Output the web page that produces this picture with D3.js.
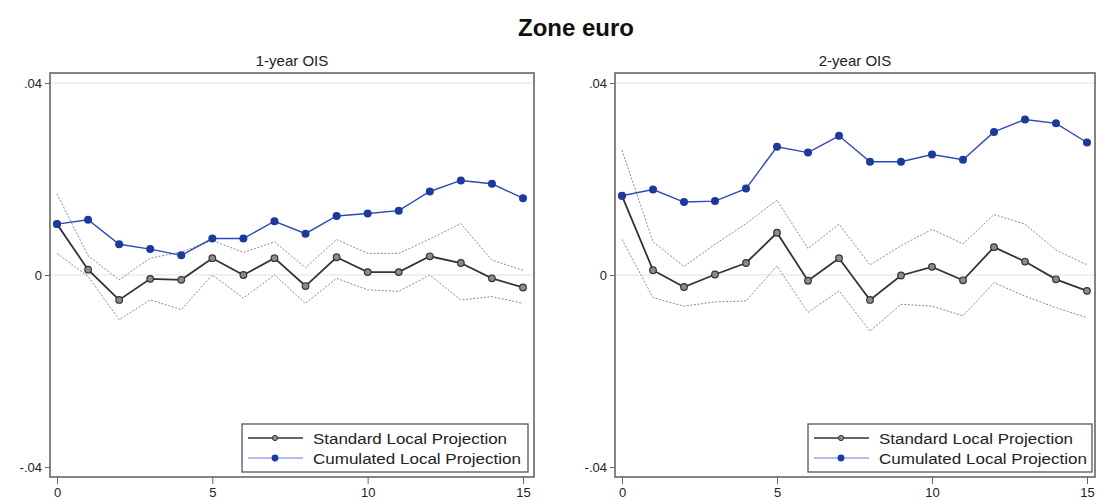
<!DOCTYPE html>
<html>
<head>
<meta charset="utf-8">
<script src="https://cdn.jsdelivr.net/npm/d3@7"></script>
<style>
  html, body { margin: 0; padding: 0; background: #fff; }
  svg { display: block; font-family: "Liberation Sans", Arial, sans-serif; }
  .tick text { fill: #222; }
</style>
</head>
<body>
<svg id="chart" width="1098" height="501"></svg>
<script>
// horizons (x axis)
const horizons = [0, 1, 2, 3, 4, 5, 6, 7, 8, 9, 10, 11, 12, 13, 14, 15]
const xTicks = [0, 5, 10, 15]
const yTicks = [-0.04, 0, 0.04]
const yTickLabels = ['-.04', '0', '.04']

// 1-year OIS
const oneYearStd = [0.0106, 0.0011, -0.0052, -0.0008, -0.0010, 0.0035, 0.0000, 0.0035, -0.0023, 0.0037, 0.0006, 0.0006, 0.0039, 0.0025, -0.0007, -0.0026]
const oneYearUp  = [0.0169, 0.0040, -0.0010, 0.0035, 0.0048, 0.0072, 0.0047, 0.0069, 0.0015, 0.0074, 0.0045, 0.0045, 0.0075, 0.0107, 0.0031, 0.0010]
const oneYearLo  = [0.0045, -0.0003, -0.0093, -0.0052, -0.0072, 0.0000, -0.0048, 0.0000, -0.0059, -0.0007, -0.0031, -0.0034, 0.0000, -0.0052, -0.0045, -0.0059]
const oneYearCum = [0.0106, 0.0115, 0.0064, 0.0054, 0.0041, 0.0076, 0.0076, 0.0112, 0.0086, 0.0123, 0.0128, 0.0134, 0.0174, 0.0197, 0.0190, 0.0160]

// 2-year OIS
const twoYearStd = [0.0165, 0.0010, -0.0025, 0.0001, 0.0025, 0.0088, -0.0012, 0.0035, -0.0052, -0.0001, 0.0017, -0.0011, 0.0058, 0.0028, -0.0009, -0.0033]
const twoYearUp  = [0.0260, 0.0069, 0.0018, 0.0064, 0.0107, 0.0156, 0.0055, 0.0106, 0.0021, 0.0061, 0.0095, 0.0065, 0.0126, 0.0106, 0.0052, 0.0021]
const twoYearLo  = [0.0074, -0.0047, -0.0065, -0.0056, -0.0054, 0.0019, -0.0078, -0.0033, -0.0117, -0.0061, -0.0065, -0.0085, -0.0016, -0.0044, -0.0068, -0.0089]
const twoYearCum = [0.0165, 0.0178, 0.0152, 0.0154, 0.0180, 0.0267, 0.0255, 0.0290, 0.0236, 0.0236, 0.0251, 0.0240, 0.0298, 0.0324, 0.0316, 0.0276]

const legendLabels = ['Standard Local Projection', 'Cumulated Local Projection']

const panels = [
  { title: '1-year OIS', std: oneYearStd, up: oneYearUp, lo: oneYearLo, cum: oneYearCum,
    frame: [50, 73, 534, 477], xr: [57, 523], legend: [242, 424, 528, 472] },
  { title: '2-year OIS', std: twoYearStd, up: twoYearUp, lo: twoYearLo, cum: twoYearCum,
    frame: [615, 73, 1095, 477], xr: [622, 1087], legend: [808, 424, 1092, 472] }
]

const svg = d3.select('#chart')

svg.append('text')
  .attr('x', 576).attr('y', 36)
  .attr('text-anchor', 'middle')
  .style('font-size', '24px').style('font-weight', 'bold')
  .attr('fill', '#111')
  .text('Zone euro')

const blue = '#2f47b8'
const blueDot = '#1c3a9c'

panels.forEach(p => {
  const [fx0, fy0, fx1, fy1] = p.frame
  const x = d3.scaleLinear().domain([0, 15]).range(p.xr)
  const y = d3.scaleLinear().domain([-0.04, 0.04]).range([467, 83])
  const g = svg.append('g')

  // panel title
  g.append('text')
    .attr('x', (fx0 + fx1) / 2).attr('y', 66)
    .attr('text-anchor', 'middle')
    .style('font-size', '15px').attr('fill', '#222')
    .text(p.title)

  // light gridlines
  g.selectAll('.grid')
    .data([0, 0.04])
    .join('line')
    .attr('x1', fx0).attr('x2', fx1)
    .attr('y1', d => y(d)).attr('y2', d => y(d))
    .attr('stroke', '#e6eef0').attr('stroke-width', 1.5)

  // axes
  const yAxis = d3.axisLeft(y)
    .tickValues(yTicks)
    .tickFormat((d, i) => yTickLabels[i])
    .tickSize(5).tickSizeOuter(0).tickPadding(3)
  g.append('g')
    .attr('transform', `translate(${fx0},0)`)
    .call(yAxis)
    .call(a => a.select('.domain').remove())
    .call(a => a.selectAll('.tick line').attr('stroke', '#666'))
    .call(a => a.selectAll('.tick text').style('font-size', '13px'))

  const xAxis = d3.axisBottom(x)
    .tickValues(xTicks)
    .tickSize(7).tickSizeOuter(0).tickPadding(4)
  g.append('g')
    .attr('transform', `translate(0,${fy1})`)
    .call(xAxis)
    .call(a => a.select('.domain').remove())
    .call(a => a.selectAll('.tick line').attr('stroke', '#666'))
    .call(a => a.selectAll('.tick text').style('font-size', '13px'))

  const line = d3.line().x((d, i) => x(horizons[i])).y(d => y(d))

  // confidence bands
  ;[p.up, p.lo].forEach(band => {
    g.append('path')
      .attr('d', line(band))
      .attr('fill', 'none')
      .attr('stroke', '#8a8a8a').attr('stroke-width', 1)
      .attr('stroke-dasharray', '2,1.6')
  })

  // standard LP
  g.append('path')
    .attr('d', line(p.std))
    .attr('fill', 'none')
    .attr('stroke', '#333').attr('stroke-width', 1.8)
  g.selectAll('.std')
    .data(p.std)
    .join('circle')
    .attr('cx', (d, i) => x(horizons[i])).attr('cy', d => y(d))
    .attr('r', 3.3)
    .attr('fill', '#8c8c8c').attr('stroke', '#333').attr('stroke-width', 1.2)

  // cumulated LP
  g.append('path')
    .attr('d', line(p.cum))
    .attr('fill', 'none')
    .attr('stroke', blue).attr('stroke-width', 1.4)
  g.selectAll('.cum')
    .data(p.cum)
    .join('circle')
    .attr('cx', (d, i) => x(horizons[i])).attr('cy', d => y(d))
    .attr('r', 4)
    .attr('fill', blueDot)

  // frame
  g.append('rect')
    .attr('x', fx0).attr('y', fy0)
    .attr('width', fx1 - fx0).attr('height', fy1 - fy0)
    .attr('fill', 'none').attr('stroke', '#666').attr('stroke-width', 1.6)

  // legend
  const [lx0, ly0, lx1, ly1] = p.legend
  const lg = g.append('g')
  lg.append('rect')
    .attr('x', lx0).attr('y', ly0)
    .attr('width', lx1 - lx0).attr('height', ly1 - ly0)
    .attr('fill', '#fff').attr('stroke', '#555').attr('stroke-width', 1.3)
  const rows = [
    { label: legendLabels[0], stroke: '#333', sw: 1.4, r: 2.6, fill: '#8c8c8c', ms: '#333', len: 194 },
    { label: legendLabels[1], stroke: '#6b78d6', sw: 1, r: 3.4, fill: blueDot, ms: 'none', len: 208 }
  ]
  rows.forEach((r, i) => {
    const cy = ly0 + 14 + i * 20
    lg.append('line')
      .attr('x1', lx0 + 6).attr('x2', lx0 + 61)
      .attr('y1', cy).attr('y2', cy)
      .attr('stroke', r.stroke).attr('stroke-width', r.sw)
    lg.append('circle')
      .attr('cx', lx0 + 33).attr('cy', cy).attr('r', r.r)
      .attr('fill', r.fill).attr('stroke', r.ms)
    lg.append('text')
      .attr('x', lx0 + 71).attr('y', cy + 5.5)
      .attr('textLength', r.len).attr('lengthAdjust', 'spacingAndGlyphs')
      .style('font-size', '15.5px').attr('fill', '#222')
      .text(r.label)
  })
})
</script>
</body>
</html>
